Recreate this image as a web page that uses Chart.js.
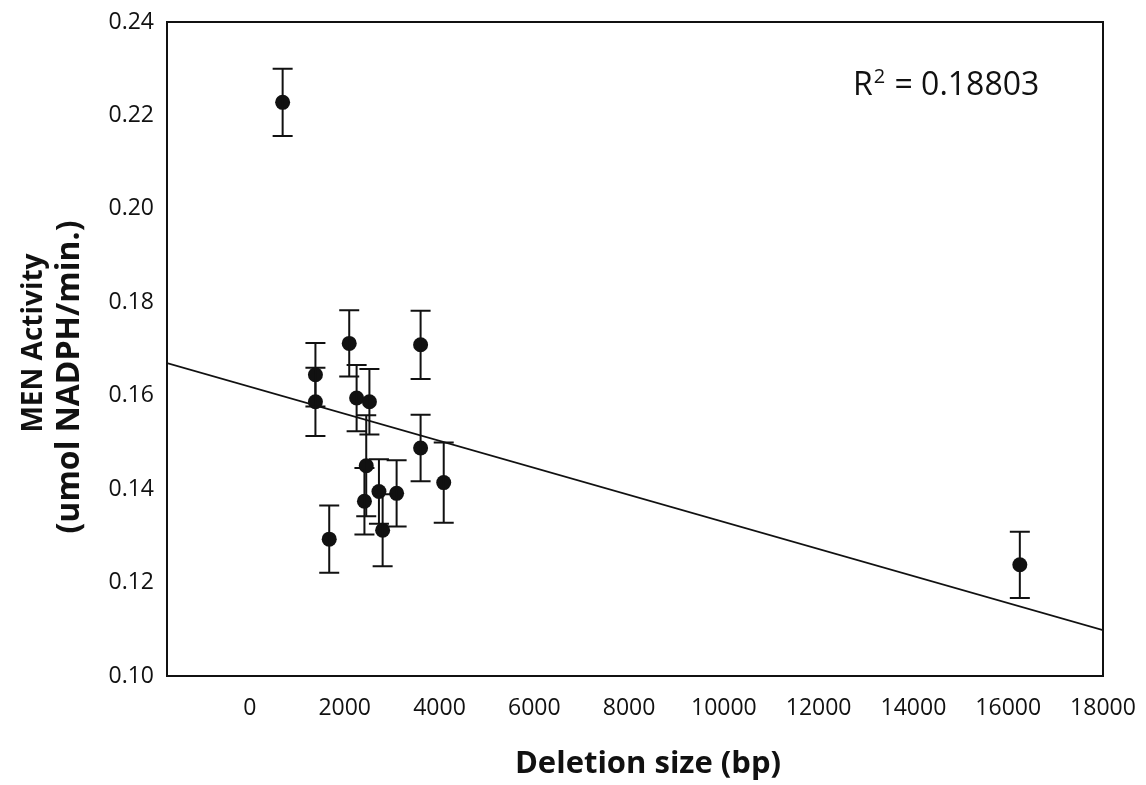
<!DOCTYPE html>
<html>
<head>
<meta charset="utf-8">
<script src="https://cdn.jsdelivr.net/npm/chart.js@4/dist/chart.umd.min.js"></script>
<style>
  html, body { margin: 0; padding: 0; background: #ffffff; }
  #wrap { width: 1146px; height: 785px; position: relative; }
</style>
</head>
<body>
<div id="wrap"><canvas id="chart" width="1146" height="785"></canvas></div>
<script>
// ---- data ----
const deletionSize = [690, 1382, 1382, 1673, 2095, 2251, 2416, 2454, 2521, 2722, 2800, 3095, 3601, 3601, 4089, 16245];
const menActivity  = [0.2228, 0.1645, 0.1587, 0.1293, 0.1712, 0.1595, 0.1374, 0.1450, 0.1587, 0.1395, 0.1312, 0.1391, 0.1709, 0.1488, 0.1414, 0.1238];
const activityError = [0.0072, 0.0068, 0.0073, 0.0072, 0.0071, 0.0071, 0.0071, 0.0108, 0.0070, 0.0069, 0.0077, 0.0071, 0.0073, 0.0071, 0.0086, 0.0071];
const trendX = [-1750, 18000];
const trendY = [0.1670, 0.1098];
const xTicks = [0, 2000, 4000, 6000, 8000, 10000, 12000, 14000, 16000, 18000];
const yTicks = [0.10, 0.12, 0.14, 0.16, 0.18, 0.20, 0.22, 0.24];
const xTitle = 'Deletion size (bp)';
const yTitleLines = ['MEN Activity', '(umol NADPH/min.)'];
const rSquared = '0.18803';

const INK = '#111111';
const FONT = '"Open Sans", "DejaVu Sans", sans-serif';

const points = deletionSize.map((x, i) => ({ x: x, y: menActivity[i] }));
const trend = trendX.map((x, i) => ({ x: x, y: trendY[i] }));

const errorBarPlugin = {
  id: 'errorBars',
  afterDatasetsDraw(chart) {
    const ctx = chart.ctx;
    const xs = chart.scales.x, ys = chart.scales.y;
    ctx.save();
    ctx.strokeStyle = INK;
    ctx.lineWidth = 2;
    points.forEach((p, i) => {
      const px = xs.getPixelForValue(p.x);
      const top = ys.getPixelForValue(p.y + activityError[i]);
      const bot = ys.getPixelForValue(p.y - activityError[i]);
      ctx.beginPath();
      ctx.moveTo(px, top); ctx.lineTo(px, bot);
      ctx.moveTo(px - 10, top); ctx.lineTo(px + 10, top);
      ctx.moveTo(px - 10, bot); ctx.lineTo(px + 10, bot);
      ctx.stroke();
    });
    ctx.restore();
  }
};

const framePlugin = {
  id: 'frame',
  afterDraw(chart) {
    const ctx = chart.ctx, a = chart.chartArea;
    ctx.save();
    ctx.strokeStyle = INK;
    ctx.lineWidth = 2;
    ctx.strokeRect(a.left, a.top, a.right - a.left, a.bottom - a.top);
    // R squared label
    ctx.fillStyle = INK;
    ctx.textBaseline = 'alphabetic';
    ctx.textAlign = 'left';
    let x = a.right - 250, y = a.top + 73;
    ctx.font = '32px ' + FONT;
    ctx.fillText('R', x, y);
    x += ctx.measureText('R').width;
    ctx.font = '20px ' + FONT;
    ctx.fillText('2', x + 1, y - 12);
    x += ctx.measureText('2').width + 2;
    ctx.font = '32px ' + FONT;
    ctx.fillText(' = ' + rSquared, x, y);
    // x axis title
    ctx.textAlign = 'center';
    ctx.font = 'bold 31px ' + FONT;
    ctx.fillText(xTitle, (a.left + a.right) / 2 + 13, a.bottom + 97);
    // y axis title (two lines)
    const cy = (a.top + a.bottom) / 2;
    ctx.font = 'bold 28px ' + FONT;
    ctx.save(); ctx.translate(42, cy - 6); ctx.rotate(-Math.PI / 2);
    ctx.fillText(yTitleLines[0], 0, 0); ctx.restore();
    ctx.font = 'bold 32px ' + FONT;
    ctx.save(); ctx.translate(79, cy + 28); ctx.rotate(-Math.PI / 2);
    ctx.fillText(yTitleLines[1], 0, 0); ctx.restore();
    ctx.restore();
  }
};

new Chart(document.getElementById('chart'), {
  type: 'scatter',
  data: {
    datasets: [
      {
        label: 'MEN activity',
        data: points,
        pointRadius: 7.5,
        pointHoverRadius: 7.5,
        pointBackgroundColor: INK,
        pointBorderColor: INK,
        pointBorderWidth: 0,
        showLine: false,
        order: 1
      },
      {
        label: 'Linear trend',
        data: trend,
        showLine: true,
        borderColor: INK,
        borderWidth: 1.7,
        pointRadius: 0,
        fill: false,
        order: 2
      }
    ]
  },
  options: {
    responsive: false,
    animation: false,
    devicePixelRatio: 1,
    layout: { padding: { top: 22, right: 43, bottom: 0, left: 0 } },
    plugins: { legend: { display: false }, tooltip: { enabled: false } },
    scales: {
      x: {
        type: 'linear',
        min: -1750,
        max: 18000,
        afterBuildTicks(scale) { scale.ticks = xTicks.map(v => ({ value: v })); },
        afterFit(scale) { scale.height = 109; scale.paddingLeft = 0; scale.paddingRight = 0; },
        grid: { display: false, drawTicks: false },
        border: { display: false },
        ticks: {
          color: INK,
          font: { family: FONT, size: 23 },
          padding: 19,
          maxRotation: 0,
          callback: v => String(v)
        },
        title: { display: false }
      },
      y: {
        type: 'linear',
        min: 0.10,
        max: 0.24,
        afterBuildTicks(scale) { scale.ticks = yTicks.map(v => ({ value: v })); },
        afterFit(scale) { scale.width = 167; scale.paddingTop = 0; scale.paddingBottom = 0; },
        grid: { display: false, drawTicks: false },
        border: { display: false },
        ticks: {
          color: INK,
          font: { family: FONT, size: 23 },
          padding: 13,
          callback: v => Number(v).toFixed(2)
        },
        title: { display: false }
      }
    }
  },
  plugins: [errorBarPlugin, framePlugin]
});
</script>
</body>
</html>
